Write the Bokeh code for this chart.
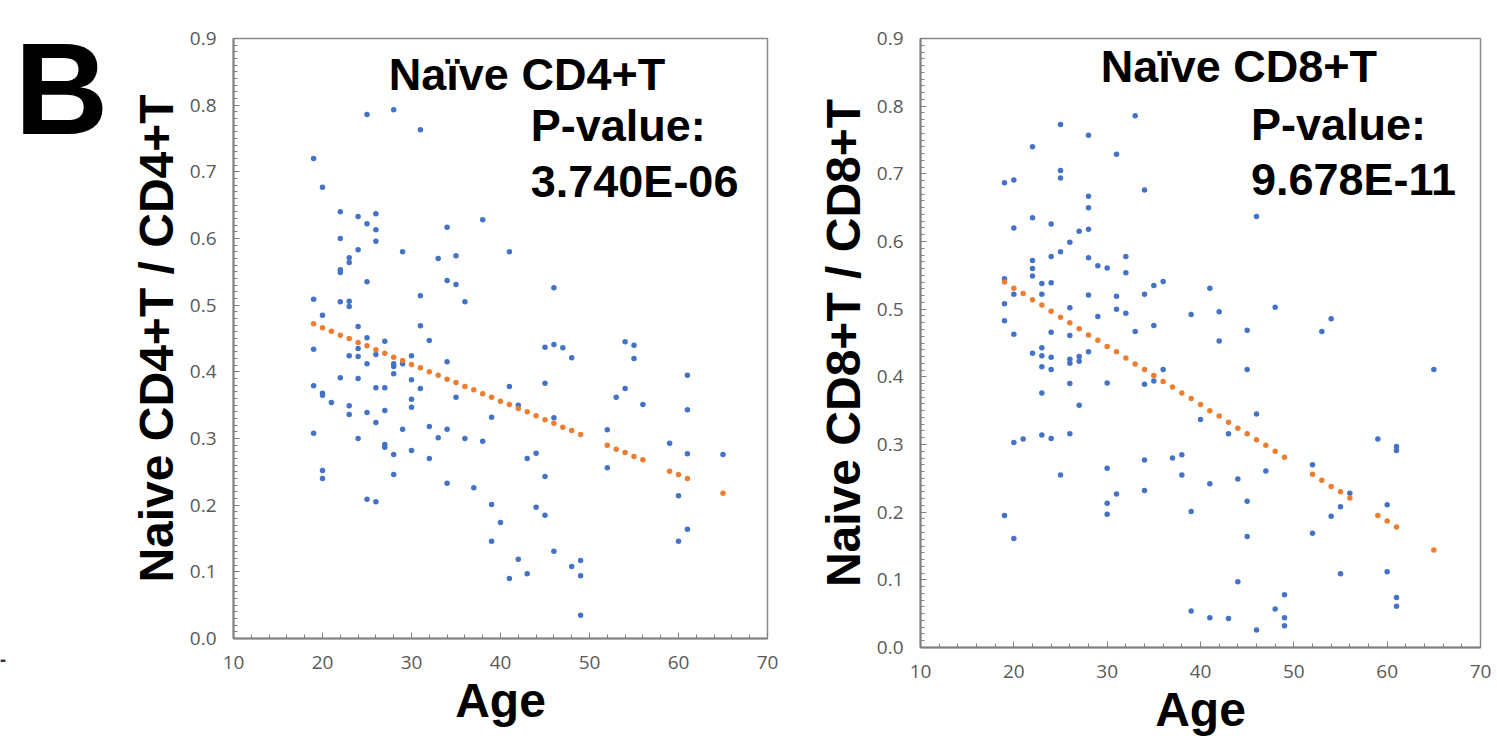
from bokeh.plotting import figure
from bokeh.layouts import row
from bokeh.models import Label, FixedTicker, Range1d, NumeralTickFormatter
from bokeh.core.properties import value
from bokeh.embed import file_html
from bokeh.resources import INLINE

# ---------------- data ----------------
cd4_age = [19, 19, 19, 19, 19,
           20, 20, 20, 20, 20, 20,
           21,
           22, 22, 22, 22, 22, 22,
           23, 23, 23, 23, 23, 23, 23,
           24, 24, 24, 24, 24, 24, 24,
           25, 25, 25, 25, 25, 25, 25,
           26, 26, 26, 26, 26, 26, 26,
           27, 27, 27, 27, 27,
           28, 28, 28, 28, 28, 28,
           29, 29, 29,
           30, 30, 30, 30, 30,
           31, 31, 31, 31,
           32, 32, 32,
           33, 33,
           34, 34, 34, 34, 34,
           35, 35, 35,
           36, 36,
           37,
           38, 38,
           39, 39, 39,
           40,
           41, 41, 41,
           42, 42,
           43, 43,
           44, 44,
           45, 45, 45, 45,
           46, 46, 46, 46,
           47,
           48, 48,
           49, 49, 49,
           52, 52,
           53,
           54, 54,
           55, 55,
           56,
           59,
           60, 60,
           61, 61, 61, 61,
           65]
cd4_ratio = [0.720, 0.509, 0.434, 0.379, 0.308,
             0.677, 0.485, 0.368, 0.365, 0.252, 0.240,
             0.354,
             0.640, 0.600, 0.553, 0.549, 0.505, 0.391,
             0.571, 0.564, 0.506, 0.498, 0.424, 0.349, 0.336,
             0.633, 0.583, 0.468, 0.435, 0.423, 0.390, 0.300,
             0.786, 0.622, 0.535, 0.451, 0.412, 0.339, 0.209,
             0.637, 0.613, 0.596, 0.426, 0.376, 0.324, 0.205,
             0.446, 0.376, 0.342, 0.291, 0.287,
             0.793, 0.412, 0.408, 0.397, 0.276, 0.246,
             0.580, 0.412, 0.314,
             0.424, 0.388, 0.359, 0.347, 0.282,
             0.763, 0.514, 0.469, 0.375,
             0.447, 0.318, 0.270,
             0.570, 0.301,
             0.617, 0.537, 0.415, 0.314, 0.233,
             0.574, 0.531, 0.362,
             0.505, 0.300,
             0.226,
             0.628, 0.296,
             0.332, 0.201, 0.146,
             0.174,
             0.580, 0.378, 0.090,
             0.350, 0.119,
             0.270, 0.097,
             0.278, 0.197,
             0.437, 0.383, 0.243, 0.185,
             0.526, 0.441, 0.331, 0.131,
             0.436,
             0.421, 0.108,
             0.117, 0.094, 0.035,
             0.313, 0.256,
             0.362,
             0.445, 0.375,
             0.440, 0.420,
             0.351,
             0.293,
             0.214, 0.146,
             0.395, 0.343, 0.277, 0.164,
             0.276]

cd8_age = [19, 19, 19, 19, 19,
           20, 20, 20, 20, 20, 20,
           21,
           22, 22, 22, 22, 22, 22,
           23, 23, 23, 23, 23, 23, 23,
           24, 24, 24, 24, 24, 24, 24,
           25, 25, 25, 25, 25,
           26, 26, 26, 26, 26, 26, 26,
           27, 27, 27, 27,
           28, 28, 28, 28, 28, 28, 28,
           29, 29,
           30, 30, 30, 30, 30,
           31, 31, 31, 31,
           32, 32, 32,
           33, 33,
           34, 34, 34, 34, 34,
           35, 35, 35,
           36, 36,
           37,
           38, 38,
           39, 39, 39,
           40,
           41, 41, 41,
           42, 42,
           43, 43,
           44, 44,
           45, 45, 45, 45,
           46, 46, 46,
           47,
           48, 48,
           49, 49, 49,
           52, 52,
           53,
           54, 54,
           55, 55,
           56,
           59,
           60, 60,
           61, 61, 61, 61,
           65]
cd8_ratio = [0.687, 0.545, 0.508, 0.483, 0.195,
             0.691, 0.620, 0.522, 0.463, 0.303, 0.161,
             0.308,
             0.740, 0.635, 0.572, 0.560, 0.549, 0.435,
             0.538, 0.522, 0.443, 0.431, 0.415, 0.376, 0.314,
             0.626, 0.578, 0.539, 0.466, 0.429, 0.411, 0.309,
             0.773, 0.705, 0.694, 0.585, 0.255,
             0.599, 0.502, 0.461, 0.426, 0.420, 0.390, 0.316,
             0.615, 0.430, 0.423, 0.358,
             0.757, 0.667, 0.650, 0.618, 0.576, 0.521, 0.437,
             0.564, 0.489,
             0.561, 0.391, 0.265, 0.213, 0.197,
             0.729, 0.519, 0.500, 0.227,
             0.578, 0.554, 0.494,
             0.786, 0.467,
             0.676, 0.522, 0.389, 0.277, 0.232,
             0.535, 0.476, 0.394,
             0.541, 0.411,
             0.280,
             0.285, 0.255,
             0.492, 0.201, 0.054,
             0.337,
             0.531, 0.242, 0.044,
             0.496, 0.453,
             0.316, 0.043,
             0.249, 0.097,
             0.469, 0.411, 0.216, 0.164,
             0.637, 0.345, 0.026,
             0.261,
             0.503, 0.057,
             0.078, 0.044, 0.032,
             0.270, 0.169,
             0.467,
             0.486, 0.194,
             0.208, 0.109,
             0.228,
             0.308,
             0.211, 0.112,
             0.297, 0.291, 0.074, 0.061,
             0.411]

fit_age = [19, 20, 21, 22, 23, 24, 25, 26, 27, 28, 29, 30, 31, 32, 33, 34,
           35, 36, 37, 38, 39, 40, 41, 42, 43, 44, 45, 46, 47, 48, 49,
           52, 53, 54, 55, 56, 59, 60, 61, 65]
cd4_fit = [0.472, 0.466, 0.461, 0.455, 0.450, 0.444, 0.439, 0.433, 0.428, 0.422,
           0.417, 0.411, 0.406, 0.400, 0.395, 0.389, 0.384, 0.378, 0.373, 0.367,
           0.362, 0.356, 0.351, 0.345, 0.340, 0.334, 0.328, 0.323, 0.317, 0.312,
           0.306, 0.290, 0.284, 0.279, 0.273, 0.268, 0.251, 0.246, 0.240, 0.218]
cd8_fit = [0.540, 0.531, 0.523, 0.514, 0.506, 0.497, 0.488, 0.480, 0.471, 0.462,
           0.454, 0.445, 0.437, 0.428, 0.419, 0.411, 0.402, 0.393, 0.385, 0.376,
           0.368, 0.359, 0.350, 0.342, 0.333, 0.324, 0.316, 0.307, 0.299, 0.290,
           0.281, 0.256, 0.247, 0.238, 0.230, 0.221, 0.195, 0.187, 0.178, 0.144]

x_ticks = [10, 20, 30, 40, 50, 60, 70]
y_ticks = [0.0, 0.1, 0.2, 0.3, 0.4, 0.5, 0.6, 0.7, 0.8, 0.9]

BLUE = "#4472C4"
ORANGE = "#ED7D31"
GRAY = "#808080"
BOLD_FONT = "Liberation Sans"


def panel(ages, vals, fit_vals, ylabel, title, pval, fw, fh, mbl, mbt, mbr, mbb,
          tx, ty, px, py1, py2):
    p = figure(frame_width=fw, frame_height=fh,
               x_range=Range1d(10, 70), y_range=Range1d(0, 0.9),
               output_backend="svg", toolbar_location=None,
               min_border_left=mbl, min_border_top=mbt,
               min_border_right=mbr, min_border_bottom=mbb,
               background_fill_color="white", border_fill_color="white")
    p.grid.visible = False
    p.outline_line_color = "#8c8c8c"
    p.outline_line_width = 1.5

    p.xaxis.ticker = FixedTicker(ticks=x_ticks, minor_ticks=list(range(10, 71, 2)))
    p.yaxis.ticker = FixedTicker(ticks=y_ticks, minor_ticks=[i / 100 for i in range(91)])
    p.yaxis.formatter = NumeralTickFormatter(format="0.0")

    for ax in (p.xaxis[0], p.yaxis[0]):
        ax.axis_line_color = GRAY
        ax.axis_line_width = 2
        ax.major_tick_line_color = GRAY
        ax.minor_tick_line_color = GRAY
        ax.major_tick_in = 6
        ax.major_tick_out = 0
        ax.minor_tick_in = 4
        ax.minor_tick_out = 0
        ax.major_label_text_font = "Open Sans"
        ax.major_label_text_font_size = "19px"
        ax.major_label_text_color = "#595959"
        ax.major_label_standoff = 17
        ax.axis_label_text_font = BOLD_FONT
        ax.axis_label_text_font_style = "bold"
        ax.axis_label_text_font_size = "48px"
        ax.axis_label_text_color = "black"

    p.xaxis.axis_label = "Age"
    p.xaxis.axis_label_standoff = 2
    p.yaxis.axis_label = ylabel
    p.yaxis.axis_label_standoff = 4

    p.scatter(ages, vals, size=5.5, color=BLUE, line_color=None)
    p.scatter(fit_age, fit_vals, size=5.5, color=ORANGE, line_color=None)

    common = dict(text_font=BOLD_FONT, text_font_style="bold",
                  text_font_size="45px", text_color="black",
                  text_baseline="alphabetic", text_align="left")
    p.add_layout(Label(x=tx, y=ty, text=title, **common))
    p.add_layout(Label(x=px, y=py1, text="P-value:", **common))
    p.add_layout(Label(x=px, y=py2, text=pval, **common))
    return p


# panel letter strip (0..120 x 0..736, y measured downward)
letter = figure(frame_width=120, frame_height=736,
                x_range=Range1d(0, 120), y_range=Range1d(736, 0),
                x_axis_location=None, y_axis_location=None,
                title_location=None,
                output_backend="svg", toolbar_location=None,
                min_border=0, min_border_left=0, min_border_right=0,
                min_border_top=0, min_border_bottom=0)
letter.grid.visible = False
letter.outline_line_color = None
letter.text(x=[14], y=[50], text=["B"], text_font=value(BOLD_FONT),
            text_font_style="bold", text_font_size="130px", text_color="black",
            text_baseline="middle", text_align="left")
letter.text(x=[-1], y=[620], text=["-"], text_font=value(BOLD_FONT),
            text_font_style="bold", text_font_size="20px", text_color="#333333",
            text_baseline="middle", text_align="left")

left = panel(cd4_age, cd4_ratio, cd4_fit, "Naive CD4+T / CD4+T", "Naïve CD4+T", "3.740E-06",
             534, 600, 113, 37, 33, 99,
             27.45, 0.846, 43.4, 0.769, 0.685)

right = panel(cd8_age, cd8_ratio, cd8_fit, "Naive CD8+T / CD8+T", "Naïve CD8+T", "9.678E-11",
              560, 609, 120, 38, 17, 89,
              29.3, 0.858, 45.4, 0.773, 0.692)

layout = row(letter, left, right)
open("out.html", "w").write(file_html(layout, INLINE))
